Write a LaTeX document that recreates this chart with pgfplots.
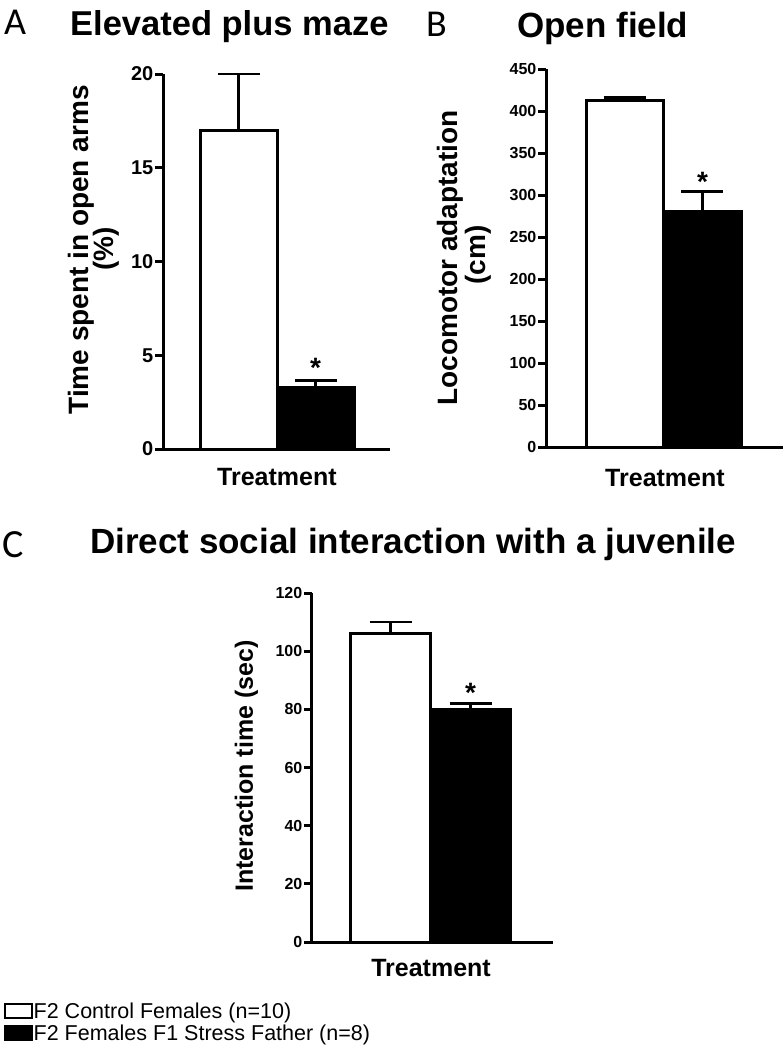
\documentclass[border=0pt]{standalone}
\usepackage{fontspec}
\setmainfont{Liberation Sans}
\newfontfamily\letterfont{Carlito}
\usepackage{pgfplots}
\pgfplotsset{compat=1.18}

\tikzset{starnode/.style={anchor=north, inner sep=0pt, font=\bfseries\fontsize{28}{28}\selectfont}}
\pgfplotsset{
  panel/.style={
    scale only axis,
    anchor=south west,
    axis x line*=bottom,
    axis y line*=left,
    axis line style={line width=3pt, black},
    xtick=\empty,
    ymin=0,
    tick align=outside,
    major tick length=8pt,
    ytick style={line width=3pt, black},
    /pgf/number format/assume math mode=true,
    yticklabel={\bfseries\pgfmathprintnumber[assume math mode=true]{\tick}},
    yticklabel style={inner xsep=1.5pt},
    clip=false,
    xlabel={Treatment},
  },
  wbar/.style={ybar, bar width=1, bar shift=0pt, fill=white, draw=black, line width=3pt,
    legend image code/.code={\draw[black, fill=white, line width=2pt] (0pt,-7pt) rectangle (27pt,7pt);},
    error bars/.cd, y dir=plus, y explicit, error mark=|,
    error bar style={line width=2.6pt, black},
    error mark options={line width=2.6pt, black, mark size=21pt}},
  bbar/.style={ybar, bar width=1, bar shift=0pt, fill=black, draw=black, line width=3pt,
    legend image code/.code={\draw[black, fill=black, line width=2pt] (0pt,-7pt) rectangle (27pt,7pt);},
    error bars/.cd, y dir=plus, y explicit, error mark=|,
    error bar style={line width=2.6pt, black},
    error mark options={line width=2.6pt, black, mark size=21pt}},
}

\begin{document}
\begin{tikzpicture}
\useasboundingbox (0pt,0pt) rectangle (784pt,-1050pt);
\fill[white] (0pt,0pt) rectangle (784pt,-1050pt);

% ---------- Panel A ----------
\node[anchor=base west, inner sep=0pt, font=\letterfont\fontsize{38}{38}\selectfont] at (4pt,-34pt) {A};
\node[anchor=base west, inner sep=0pt, font=\bfseries\fontsize{34.5}{34.5}\selectfont] at (70pt,-35pt) {Elevated plus maze};
\begin{axis}[panel, at={(163pt,-449pt)}, width=227pt, height=375pt,
  xmin=0.019, xmax=2.967, ymax=20, ytick={0,5,10,15,20},
  yticklabel style={font=\bfseries\fontsize{20}{20}\selectfont},
  xlabel style={at={(axis description cs:0.502,0)}, anchor=base, yshift=-36pt, font=\bfseries\fontsize{25}{25}\selectfont},
  ylabel={Time spent in open arms},
  ylabel style={at={(axis description cs:-0.330,0.531)}, anchor=base, font=\bfseries\fontsize{28}{28}\selectfont}]
\addplot[wbar] coordinates {(1,17.0) +- (0,3.0)};
\addplot[bbar] coordinates {(2,3.3) +- (0,0.35)};
\node[starnode] at (axis cs:2,4.85) {*};
\end{axis}
\node[rotate=90, anchor=base, inner sep=0pt, font=\bfseries\fontsize{28}{28}\selectfont] at (113pt,-249pt) {(\%)};

% ---------- Panel B ----------
\node[anchor=base west, inner sep=0pt, font=\letterfont\fontsize{38}{38}\selectfont] at (426pt,-36pt) {B};
\node[anchor=base west, inner sep=0pt, font=\bfseries\fontsize{35}{35}\selectfont] at (517pt,-37pt) {Open field};
\begin{axis}[panel, at={(546pt,-447pt)}, width=237pt, height=378pt,
  xmin=-0.02, xmax=3.04, ymax=450, ytick={0,50,...,450},
  yticklabel style={font=\bfseries\fontsize{16}{16}\selectfont},
  xlabel style={at={(axis description cs:0.502,0)}, anchor=base, yshift=-39pt, font=\bfseries\fontsize{25}{25}\selectfont},
  ylabel={Locomotor adaptation},
  ylabel style={at={(axis description cs:-0.3755,0.5)}, anchor=base, font=\bfseries\fontsize{28}{28}\selectfont}]
\addplot[wbar] coordinates {(1,413) +- (0,3)};
\addplot[bbar] coordinates {(2,280) +- (0,24)};
\node[starnode] at (axis cs:2,327) {*};
\end{axis}
\node[rotate=90, anchor=base, inner sep=0pt, font=\bfseries\fontsize{28}{28}\selectfont] at (485pt,-255pt) {(cm)};

% ---------- Panel C ----------
\node[anchor=base west, inner sep=0pt, font=\letterfont\fontsize{40}{40}\selectfont] at (2pt,-557pt) {C};
\node[anchor=base west, inner sep=0pt, font=\bfseries\fontsize{35}{35}\selectfont] at (90pt,-553pt) {Direct social interaction with a juvenile};
\begin{axis}[panel, at={(312pt,-942pt)}, width=241pt, height=349pt,
  xmin=0.019, xmax=3.03, ymax=120, ytick={0,20,...,120},
  yticklabel style={font=\bfseries\fontsize{16}{16}\selectfont},
  xlabel style={at={(axis description cs:0.494,0)}, anchor=base, yshift=-34pt, font=\bfseries\fontsize{25}{25}\selectfont},
  ylabel={Interaction time (sec)},
  ylabel style={at={(axis description cs:-0.245,0.504)}, anchor=base, font=\bfseries\fontsize{25}{25}\selectfont},
  legend style={at={(axis description cs:-1.278,-0.172)}, anchor=north west, draw=none, fill=none,
    inner sep=0pt, row sep=4pt, column sep=0pt, font=\fontsize{21.5}{21.5}\selectfont,
    nodes={inner sep=0.5pt}},
  legend cell align=left]
\addplot[wbar] coordinates {(1,106.2) +- (0,3.8)};
\addlegendentry{F2 Control Females (n=10)}
\addplot[bbar] coordinates {(2,80.1) +- (0,2.0)};
\addlegendentry{F2 Females F1 Stress Father (n=8)}
\node[starnode] at (axis cs:2,89.1) {*};
\end{axis}
\end{tikzpicture}
\end{document}
